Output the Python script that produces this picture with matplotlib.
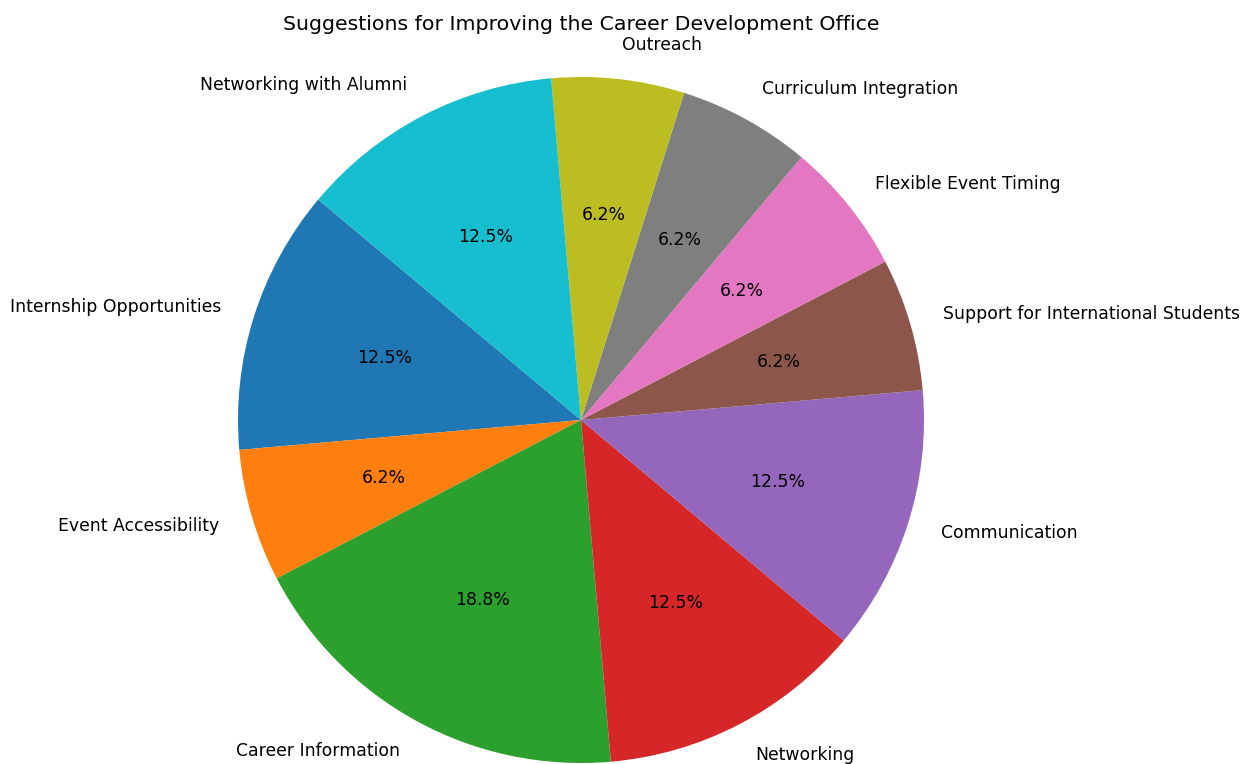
import matplotlib.pyplot as plt

# Suggestion categories and their counts
labels = ['Internship Opportunities', 'Event Accessibility', 'Career Information',
          'Networking', 'Communication', 'Support for International Students',
          'Flexible Event Timing', 'Curriculum Integration', 'Outreach',
          'Networking with Alumni']
counts = [2, 1, 3, 2, 2, 1, 1, 1, 1, 2]

fig = plt.figure(figsize=(12.41, 7.64), dpi=100)

# pie center at (581, 420) px, radius ~343 px -> square box of 2.5 radii
W, H = 1241, 764
r = 343
cx, cy = 581, H - 420
side = 2.5 * r
ax = fig.add_axes([(cx - side / 2) / W, (cy - side / 2) / H, side / W, side / H])

ax.pie(counts, labels=labels, autopct='%1.1f%%', startangle=140,
       textprops={'fontsize': 12.45})
ax.axis('equal')
ax.set_xlim(-1.25, 1.25)
ax.set_ylim(-1.25, 1.25)

fig.text(cx / W, 1 - 24 / H, 'Suggestions for Improving the Career Development Office',
         ha='center', va='center', fontsize=14.75)

fig.savefig('out.png', dpi=100)
